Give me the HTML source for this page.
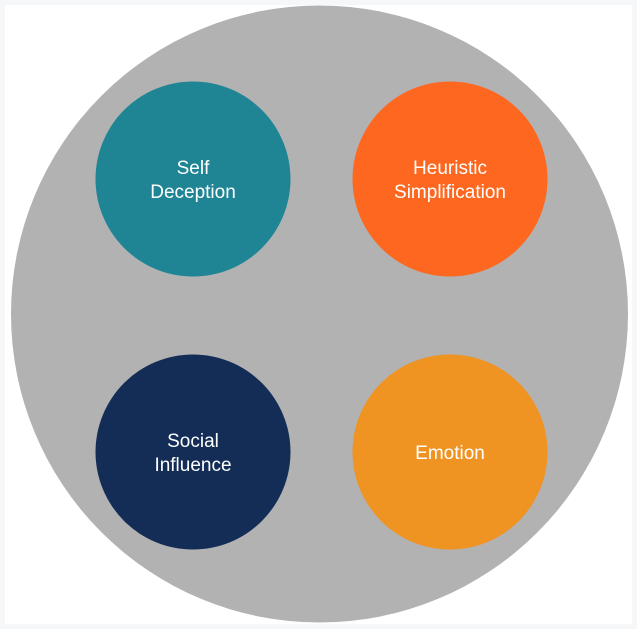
<!DOCTYPE html>
<html><head><meta charset="utf-8"><style>
html,body{margin:0;padding:0;background:#fff;}
</style></head><body>
<svg width="637" height="629" viewBox="0 0 637 629" xmlns="http://www.w3.org/2000/svg" style="display:block">
<rect x="0" y="0" width="637" height="629" fill="#f6f7f9"/>
<rect x="5" y="5" width="627" height="619" fill="#ffffff"/>
<circle cx="319.5" cy="314" r="308.5" fill="#b2b2b2"/>
<circle cx="193" cy="179" r="97.5" fill="#1f8595"/>
<circle cx="450" cy="179" r="97.5" fill="#fd671f"/>
<circle cx="193" cy="452" r="97.5" fill="#142d56"/>
<circle cx="450" cy="452" r="97.5" fill="#ef9422"/>
<g font-family="Liberation Sans, DejaVu Sans, sans-serif" font-size="19" fill="#ffffff" text-anchor="middle">
<text x="193" y="174">Self</text>
<text x="193" y="198">Deception</text>
<text x="450" y="174">Heuristic</text>
<text x="450" y="198">Simplification</text>
<text x="193" y="447">Social</text>
<text x="193" y="471">Influence</text>
<text x="450" y="459">Emotion</text>
</g>
</svg>
</body></html>
